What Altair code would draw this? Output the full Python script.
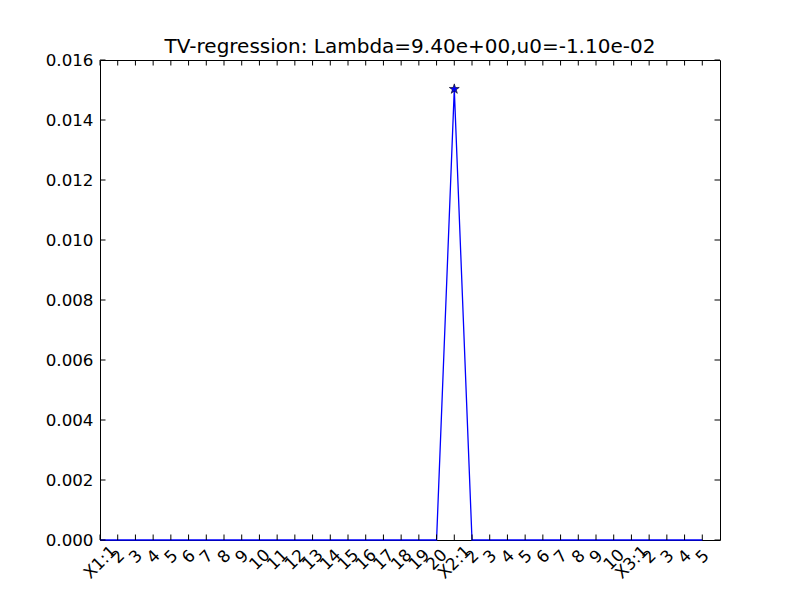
import altair as alt
import pandas as pd

x_labels = (["X1:1"] + [str(i) for i in range(2, 21)]
            + ["X2:1"] + [str(i) for i in range(2, 11)]
            + ["X3:1"] + [str(i) for i in range(2, 6)])
values = [0.0] * 20 + [0.01503] + [0.0] * 14
y_ticks = [0.000, 0.002, 0.004, 0.006, 0.008, 0.010, 0.012, 0.014, 0.016]
title_text = "TV-regression: Lambda=9.40e+00,u0=-1.10e-02"

df = pd.DataFrame({"idx": list(range(len(x_labels))), "label": x_labels, "value": values})
df_y = pd.DataFrame({"v": y_ticks})

FONT = "DejaVu Sans"
W, H = 620, 480
TICK = 5.5

long_idx = [i for i, s in enumerate(x_labels) if len(s) >= 3]
two_idx = [i for i, s in enumerate(x_labels) if len(s) == 2]
label_expr = "[" + ",".join("'" + s + "'" for s in x_labels) + "][datum.value]"

xscale = alt.Scale(domain=[0, len(x_labels)], nice=False, zero=False)
yscale = alt.Scale(domain=[0, 0.016], nice=False)

xaxis = alt.Axis(
    values=list(range(len(x_labels))),
    tickCount=200,
    labelExpr=label_expr,
    labelAngle=-45,
    labelAlign="center",
    labelBaseline="middle",
    labelPadding={"condition": [
        {"test": "indexof(" + str(long_idx) + ", datum.value) >= 0", "value": 22},
        {"test": "indexof(" + str(two_idx) + ", datum.value) >= 0", "value": 19.5},
    ], "value": 16.5},
    labelOverlap=False,
    labelBound=False,
    labelFlush=False,
    labelFont=FONT,
    labelFontSize=16.7,
    labelColor="black",
    ticks=False,
    domain=False,
    grid=False,
    title=None,
)
yaxis = alt.Axis(
    values=y_ticks,
    tickCount=50,
    format=".3f",
    labelFont=FONT,
    labelFontSize=16.7,
    labelColor="black",
    labelPadding=7,
    labelFlush=False,
    labelOverlap=False,
    ticks=False,
    domain=False,
    grid=False,
    title=None,
)

base = alt.Chart(df)

line = base.mark_line(color="#0000ff", strokeWidth=1.3).encode(
    x=alt.X("idx:Q", scale=xscale, axis=xaxis),
    y=alt.Y("value:Q", scale=yscale, axis=yaxis),
)

star_path = ("M0,-1 L0.225,-0.309 L0.951,-0.309 L0.363,0.118 L0.588,0.809 "
             "L0,0.382 L-0.588,0.809 L-0.363,0.118 L-0.951,-0.309 L-0.225,-0.309 Z")
star = base.transform_filter("datum.value != 0").mark_point(
    shape=star_path, filled=True, fill="#0000ff", stroke="black",
    strokeWidth=0.6, size=110, opacity=1,
).encode(
    x=alt.X("idx:Q", scale=xscale),
    y=alt.Y("value:Q", scale=yscale),
)

xt_bottom = base.mark_rule(color="black", strokeWidth=1).encode(
    x=alt.X("idx:Q", scale=xscale), y=alt.value(H), y2=alt.value(H - TICK))
xt_top = base.mark_rule(color="black", strokeWidth=1).encode(
    x=alt.X("idx:Q", scale=xscale), y=alt.value(0), y2=alt.value(TICK))
ybase = alt.Chart(df_y)
yt_left = ybase.mark_rule(color="black", strokeWidth=1).encode(
    y=alt.Y("v:Q", scale=yscale), x=alt.value(0), x2=alt.value(TICK))
yt_right = ybase.mark_rule(color="black", strokeWidth=1).encode(
    y=alt.Y("v:Q", scale=yscale), x=alt.value(W), x2=alt.value(W - TICK))

chart = alt.layer(line, xt_bottom, xt_top, yt_left, yt_right, star).properties(
    width=W,
    height=H,
    title=alt.TitleParams(
        text=title_text, font=FONT, fontSize=20, fontWeight="normal",
        color="black", anchor="middle", frame="group", baseline="alphabetic",
        offset=7, dy=28,
    ),
    autosize=alt.AutoSizeParams(type="none"),
    padding={"left": 92, "top": 52, "right": 10, "bottom": 50},
).configure(
    background="white",
    view=alt.ViewConfig(stroke="black", strokeWidth=1),
)

chart.save("out.html", embed_options={"renderer": "svg", "actions": False})
